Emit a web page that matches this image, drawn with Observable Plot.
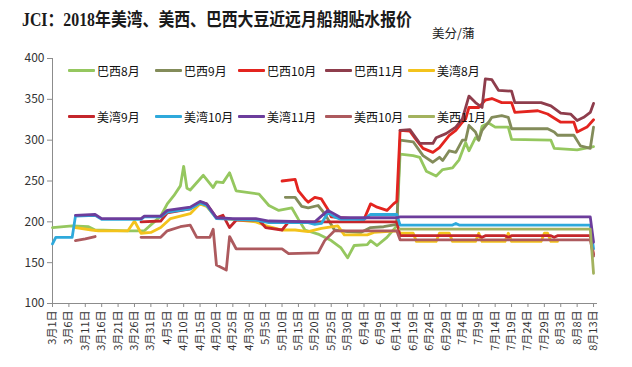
<!DOCTYPE html>
<html><head><meta charset="utf-8">
<script src="https://cdn.jsdelivr.net/npm/d3@7"></script>
<script src="https://cdn.jsdelivr.net/npm/@observablehq/plot@0.6"></script>
<style>
body{margin:0;background:#fff;}
#wrap{position:relative;width:632px;height:367px;overflow:hidden;font-family:"Noto Sans CJK SC",sans-serif;background:#fff;}
#title{position:absolute;left:22px;top:10px;line-height:20px;font-family:"Liberation Serif","Noto Sans CJK SC",serif;font-size:18px;font-weight:bold;color:#1a1a1a;white-space:nowrap;transform:scaleX(0.88);transform-origin:left center;}
#unit{position:absolute;left:432px;top:25px;line-height:16px;font-size:12.5px;color:#222;white-space:nowrap;}
.lg{position:absolute;display:flex;align-items:center;font-size:12px;color:#111;white-space:nowrap;height:16px;}
.lg .sw{display:inline-block;width:27px;height:3px;margin-right:2px;border-radius:1px;}
#chart{position:absolute;left:0;top:0;}
</style></head><body>
<div id="wrap"><div id="chart"></div><div id="title">JCI：2018年美湾、美西、巴西大豆近远月船期贴水报价</div><div id="unit">美分/蒲</div></div>
<script>
// ---- data ----
const seriesNames = ["巴西8月","巴西9月","巴西10月","巴西11月","美湾8月","美湾9月","美湾10月","美湾11月","美西10月","美西11月"];
const seriesColors = ["#95c75f","#838c5a","#e3241f","#8e3d4c","#f3c31c","#c4262b","#2ea9db","#6c3d9c","#ad5a5e","#a3b25e"];
const yTicks = [100,150,200,250,300,350,400];
const xTicks = ["3-1","3-6","3-11","3-16","3-21","3-26","3-31","4-5","4-10","4-15","4-20","4-25","4-30","5-5","5-10","5-15","5-20","5-25","5-30","6-4","6-9","6-14","6-19","6-24","6-29","7-4","7-9","7-14","7-19","7-24","7-29","8-3","8-8","8-13"];

const brazilAug = [["3-1",193],["3-7",195],["3-12",194],["3-14",190],["3-24",189],["3-29",189],["4-3",207],["4-5",222],["4-7",232],["4-9",244],["4-10",268],["4-11",241],["4-12",239],["4-16",257],["4-19",242],["4-20",249],["4-22",248],["4-24",260],["4-26",238],["5-3",234],["5-6",220],["5-9",214],["5-13",217],["5-15",203],["5-17",190],["5-21",185],["5-25",177],["5-28",168],["5-30",156],["6-1",171],["6-5",172],["6-6",177],["6-8",171],["6-11",181],["6-14",195],["6-15",283],["6-19",281],["6-21",279],["6-23",262],["6-26",256],["6-28",264],["7-1",266],["7-3",276],["7-5",297],["7-6",287],["7-8",303],["7-9",300],["7-10",317],["7-12",321],["7-14",316],["7-18",316],["7-19",301],["7-31",300],["8-1",290],["8-8",288],["8-13",292]];
const brazilSep = [["5-11",230],["5-14",230],["5-16",219],["5-18",217],["5-21",220],["5-23",210],["5-26",190],["5-30",188],["6-3",187],["6-6",193],["6-10",194],["6-14",197],["6-15",300],["6-19",298],["6-22",281],["6-25",273],["6-27",279],["6-28",275],["6-30",287],["7-2",285],["7-4",300],["7-5",300],["7-6",318],["7-8",310],["7-9",300],["7-10",312],["7-12",322],["7-13",328],["7-16",330],["7-18",328],["7-19",314],["7-30",314],["8-1",310],["8-2",306],["8-7",306],["8-9",293],["8-12",290],["8-13",316]];
const brazilOct = [["5-10",250],["5-14",252],["5-15",238],["5-17",228],["5-18",224],["5-20",230],["5-22",228],["5-24",215],["5-25",206],["6-4",203],["6-6",222],["6-8",218],["6-11",214],["6-13",222],["6-14",225],["6-15",312],["6-18",311],["6-20",300],["6-22",290],["6-25",285],["6-27",291],["6-30",306],["7-2",312],["7-4",322],["7-5",326],["7-6",340],["7-9",340],["7-11",349],["7-13",351],["7-16",346],["7-19",346],["7-20",334],["7-27",336],["7-30",332],["8-3",322],["8-7",322],["8-8",310],["8-11",316],["8-13",325]];
const brazilNov = [["6-15",312],["6-18",313],["6-21",296],["6-25",296],["6-26",303],["6-29",308],["7-2",316],["7-4",326],["7-6",354],["7-8",346],["7-10",340],["7-11",375],["7-13",374],["7-15",361],["7-19",360],["7-20",346],["7-28",346],["7-31",342],["8-3",333],["8-6",332],["8-8",324],["8-10",328],["8-12",334],["8-13",345]];
const gulfAug = [["3-8",193],["3-13",190],["3-15",189],["3-24",189],["3-26",201],["3-28",186],["3-31",187],["4-3",193],["4-6",204],["4-12",210],["4-15",222],["4-17",219],["4-20",205],["5-2",200],["5-6",194],["5-10",190],["5-14",190],["5-18",188],["5-22",192],["5-27",195],["5-29",184],["6-5",184],["6-7",187],["6-14",189],["6-15",186],["6-19",186],["6-20",176],["6-26",176],["6-27",186],["6-30",186],["7-1",176],["7-8",176],["7-9",186],["7-10",176],["7-17",176],["7-18",186],["7-19",176],["7-28",176],["7-29",186],["7-30",186],["7-31",176],["8-2",176]];
const gulfSep = [["3-28",200],["4-3",201],["4-5",211],["4-12",216],["4-15",224],["4-17",222],["4-20",205],["4-22",208],["4-24",193],["4-26",202],["5-3",202],["5-5",193],["5-10",190],["5-12",200],["6-14",200],["6-15",183],["7-9",183],["7-10",181],["7-11",183],["7-17",183],["7-18",181],["7-19",183],["7-31",183],["8-1",181],["8-2",183],["8-12",183],["8-13",160]];
const gulfOct = [["3-1",173],["3-2",181],["3-7",181],["3-8",207],["3-14",208],["3-16",203],["3-28",203],["3-29",206],["4-3",206],["4-5",212],["4-12",216],["4-15",223],["4-17",220],["4-20",204],["5-2",202],["5-6",199],["5-18",199],["5-20",197],["5-22",198],["5-24",211],["5-26",206],["5-28",203],["6-4",203],["6-6",209],["6-14",209],["6-15",196],["7-1",196],["7-2",198],["7-3",196],["8-12",196],["8-13",167]];
const gulfNov = [["3-8",208],["3-14",209],["3-16",204],["3-28",204],["3-29",207],["4-3",207],["4-5",214],["4-12",218],["4-15",225],["4-17",222],["4-20",205],["4-25",204],["5-2",204],["5-6",201],["5-20",200],["5-24",214],["5-28",205],["6-14",205],["6-15",206],["8-12",206],["8-13",175]];
const pnwOct = [["3-8",177],["3-11",179],["3-14",182],["3-20",null],["3-28",181],["4-3",181],["4-5",189],["4-9",194],["4-12",196],["4-14",181],["4-18",181],["4-19",191],["4-20",147],["4-23",141],["4-24",182],["4-26",167],["5-10",167],["5-12",161],["5-21",162],["5-23",177],["5-26",189],["6-14",189],["6-15",178],["8-12",178],["8-13",158]];
const pnwNov = [["6-15",191],["8-12",191],["8-13",137]];

const allSeries = [brazilAug,brazilSep,brazilOct,brazilNov,gulfAug,gulfSep,gulfOct,gulfNov,pnwOct,pnwNov];

// ---- build ----
const parse = s => { const [m,d] = s.split("-").map(Number); return new Date(Date.UTC(2018, m-1, d)); };
const rows = [];
allSeries.forEach((arr, i) => arr.forEach(([d, v]) => rows.push({date: parse(d), value: v, name: seriesNames[i]})));
const fmt = d => `${d.getUTCMonth()+1}月${d.getUTCDate()}日`;
const x0 = parse("3-1");

const chart = Plot.plot({
  width: 632, height: 367,
  marginTop: 58, marginBottom: 64, marginLeft: 52, marginRight: 35,
  style: {fontFamily: '"Noto Sans CJK SC", sans-serif', fontSize: "11px", color: "#333", background: "transparent"},
  x: {type: "utc", domain: [x0, new Date(Date.UTC(2018, 7, 14, 5))]},
  y: {domain: [100, 400]},
  color: {domain: seriesNames, range: seriesColors},
  marks: [
    Plot.ruleX([x0], {stroke: "#8c8c8c"}),
    Plot.ruleY([100], {stroke: "#8c8c8c"}),
    Plot.axisY({ticks: yTicks, tickSize: 5, tickPadding: 3, fontSize: 12, label: null, stroke: "#8c8c8c"}),
    Plot.axisX({ticks: xTicks.map(parse), tickFormat: fmt, tickRotate: -90, tickSize: 4, tickPadding: 3, fontSize: 11, label: null, stroke: "#8c8c8c"}),
    ...seriesNames.map((n, i) => Plot.line(rows.filter(r => r.name === n), {
      x: "date", y: "value", stroke: seriesColors[i], strokeWidth: 2.8,
      strokeLinejoin: "round", strokeLinecap: "round"
    }))
  ]
});
document.getElementById("chart").appendChild(chart);

// legend (two rows inside the plot)
const wrap = document.getElementById("wrap");
const colX = [68, 155, 238, 325, 408];
const rowY = [70, 116];
seriesNames.forEach((n, i) => {
  const el = document.createElement("div");
  el.className = "lg";
  el.style.left = colX[i % 5] + "px";
  el.style.top = (rowY[Math.floor(i / 5)] - 8) + "px";
  el.innerHTML = `<span class="sw" style="background:${seriesColors[i]}"></span><span>${n}</span>`;
  wrap.appendChild(el);
});
</script>
</body></html>
